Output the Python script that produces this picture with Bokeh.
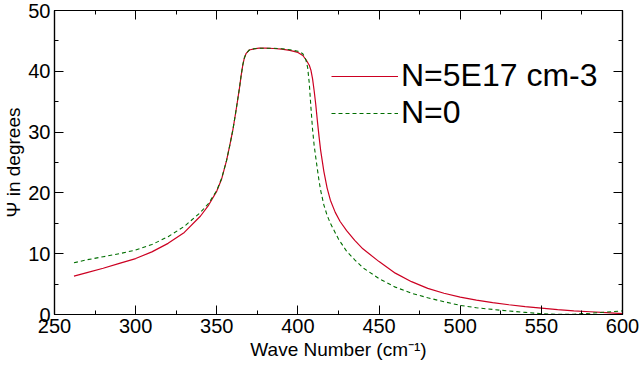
from bokeh.plotting import figure
from bokeh.models import (LinearAxis, SingleIntervalTicker, Range1d, Legend, LegendItem,
                          CustomJSTickFormatter)
from bokeh.embed import file_html
from bokeh.resources import INLINE

# Data
x_red = [262, 270, 280, 290, 300, 310, 320, 330, 340, 345, 350, 353, 356, 358, 360,
         362, 364, 365, 366, 367, 368, 370, 373, 376, 380, 385, 390, 395, 400, 403,
         405, 407, 408, 409, 410, 411, 412, 413, 414, 416, 418, 420, 423, 426, 430,
         435, 440, 450, 460, 470, 480, 490, 500, 510, 520, 530, 540, 550, 560, 570,
         580, 590, 600]
y_red = [6.3, 6.9, 7.6, 8.4, 9.2, 10.3, 11.7, 13.5, 16.2, 18.0, 20.3, 22.3, 25.3, 27.8, 30.5,
         33.8, 37.3, 39.3, 41.0, 42.2, 42.9, 43.5, 43.7, 43.8, 43.8, 43.75, 43.65, 43.45, 43.1, 42.6,
         41.9, 41.0, 40.2, 38.8, 36.8, 34.5, 31.8, 29.3, 27.0, 23.5, 20.8, 18.8, 16.8, 15.3, 13.8,
         12.2, 10.8, 8.7, 6.8, 5.4, 4.3, 3.5, 2.85, 2.35, 1.95, 1.6, 1.3, 1.05, 0.8, 0.6,
         0.45, 0.3, 0.15]

x_green = [262, 270, 280, 290, 300, 310, 320, 330, 340, 345, 350, 353, 356, 358, 360,
           362, 364, 365, 366, 367, 368, 370, 373, 376, 380, 385, 390, 395, 400, 403,
           405, 406, 407, 408, 409, 410, 411, 413, 414, 416, 418, 420, 425, 430, 435,
           440, 450, 460, 470, 480, 490, 500, 510, 525, 540, 550, 560, 570, 580, 590,
           600]
y_green = [8.5, 9.0, 9.5, 10.0, 10.6, 11.5, 12.8, 14.5, 16.8, 18.3, 20.4, 22.4, 25.3, 27.8, 30.5,
           33.8, 37.3, 39.3, 41.0, 42.2, 42.9, 43.5, 43.7, 43.8, 43.8, 43.8, 43.7, 43.55, 43.3, 42.9,
           41.8, 40.6, 38.0, 34.1, 30.5, 27.8, 25.8, 22.0, 20.4, 18.0, 16.3, 15.0, 12.4, 10.4, 9.0,
           7.7, 5.9, 4.5, 3.5, 2.75, 2.1, 1.5, 1.1, 0.7, 0.35, 0.12, 0.02, 0.05, 0.2, 0.4,
           0.6]

series_labels = ["N=5E17 cm-3", "N=0"]
x_title = "Wave Number (cm\u207b\u00b9)"
y_title = "\u03a8 in degrees"

FONT = "Liberation Sans"

p = figure(width=639, height=366, output_backend="svg", toolbar_location=None,
           x_range=Range1d(250, 600), y_range=Range1d(0, 50),
           min_border_left=53, min_border_right=17, min_border_top=10, min_border_bottom=52)
p.xgrid.visible = False
p.ygrid.visible = False
p.outline_line_color = "black"
p.outline_line_width = 1.2
p.background_fill_color = "white"
p.border_fill_color = "white"

def style_axis(ax, interval, show_labels=True):
    ax.ticker = SingleIntervalTicker(interval=interval, num_minor_ticks=2)
    ax.major_tick_in = 9
    ax.major_tick_out = 0
    ax.minor_tick_in = 4
    ax.minor_tick_out = 0
    ax.axis_line_color = "black"
    ax.axis_line_width = 1.2
    ax.major_tick_line_color = "black"
    ax.minor_tick_line_color = "black"
    ax.major_label_text_font = FONT
    ax.major_label_text_color = "black"
    if show_labels:
        ax.major_label_text_font_size = "20px"
        ax.major_label_standoff = 4
    else:
        ax.formatter = CustomJSTickFormatter(code="return ''")
        ax.major_label_text_font_size = "1px"
        ax.major_label_standoff = 0
    ax.axis_label_text_font = FONT
    ax.axis_label_text_font_size = "19px"
    ax.axis_label_text_font_style = "normal"
    ax.axis_label_text_color = "black"
    ax.axis_label_standoff = 3

style_axis(p.xaxis[0], 50)
style_axis(p.yaxis[0], 10)
p.xaxis[0].axis_label = x_title
p.yaxis[0].axis_label = y_title
p.yaxis[0].major_label_standoff = 4
p.yaxis[0].axis_label_standoff = 1

top = LinearAxis()
style_axis(top, 50, show_labels=False)
p.add_layout(top, "above")
right = LinearAxis()
style_axis(right, 10, show_labels=False)
p.add_layout(right, "right")

r_red = p.line(x_red, y_red, line_color="#cc0022", line_width=1.2)
r_green = p.line(x_green, y_green, line_color="#006e00", line_width=1.1, line_dash="4 3")

legend = Legend(items=[LegendItem(label=series_labels[0], renderers=[r_red]),
                       LegendItem(label=series_labels[1], renderers=[r_green])],
                location=(277, 183))
legend.label_text_font = FONT
legend.label_text_font_size = "32px"
legend.label_text_color = "black"
legend.glyph_width = 67
legend.glyph_height = 36
legend.label_height = 36
legend.label_standoff = 3
legend.spacing = 0
legend.padding = 0
legend.margin = 0
legend.border_line_color = None
legend.background_fill_alpha = 0
p.add_layout(legend, "center")

open("out.html", "w").write(file_html(p, INLINE))
